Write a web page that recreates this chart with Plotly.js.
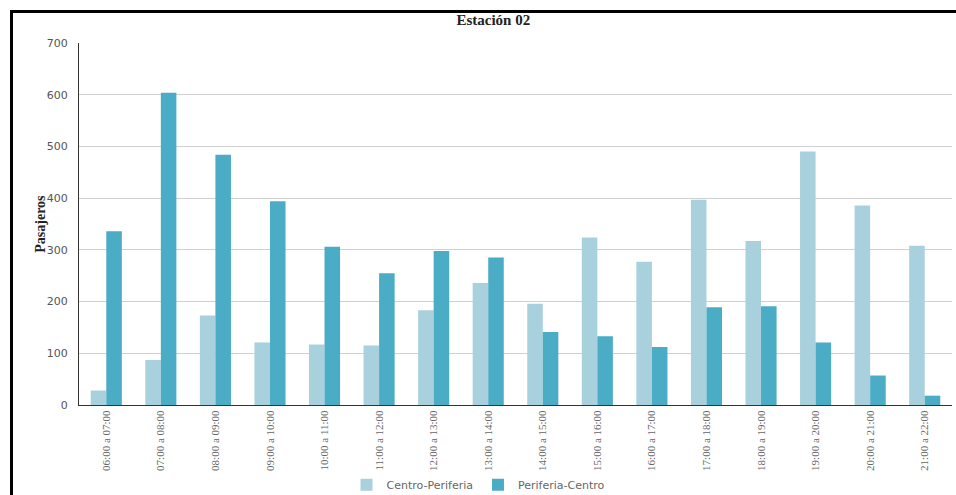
<!DOCTYPE html>
<html><head><meta charset="utf-8">
<script src="https://cdn.plot.ly/plotly-3.0.1.min.js"></script>
<style>
html,body{margin:0;padding:0;background:#fff;}
#wrap{position:relative;width:956px;height:495px;overflow:hidden;}
#chart{position:absolute;left:0;top:0;width:956px;height:495px;}
#frame{position:absolute;left:10px;top:10px;width:960px;height:500px;border-left:3px solid #000;border-top:3px solid #000;pointer-events:none;}
</style></head>
<body><div id="wrap"><div id="chart"></div><div id="frame"></div></div>
<script>
const categories = ["06:00 a 07:00","07:00 a 08:00","08:00 a 09:00","09:00 a 10:00","10:00 a 11:00","11:00 a 12:00","12:00 a 13:00","13:00 a 14:00","14:00 a 15:00","15:00 a 16:00","16:00 a 17:00","17:00 a 18:00","18:00 a 19:00","19:00 a 20:00","20:00 a 21:00","21:00 a 22:00"];
const centroPeriferia = [28, 87, 173, 121, 117, 115, 183, 236, 196, 324, 277, 397, 317, 490, 386, 308];
const periferiaCentro = [336, 604, 484, 394, 306, 255, 298, 285, 141, 133, 112, 189, 191, 121, 57, 18];

const data = [
  {type:'bar', name:'Centro-Periferia', x:categories, y:centroPeriferia, marker:{color:'#a9d1dd'}},
  {type:'bar', name:'Periferia-Centro', x:categories, y:periferiaCentro, marker:{color:'#4bacc6'}}
];
const layout = {
  width:956, height:495,
  margin:{l:79, r:4, t:43, b:90, autoexpand:false},
  paper_bgcolor:'#fff', plot_bgcolor:'#fff',
  barmode:'group', bargap:0.43, bargroupgap:0,
  title:{text:'<b>Estación 02</b>', x:0.516, xanchor:'center', y:0.96, yanchor:'middle', font:{family:'Liberation Serif, Times New Roman, serif', size:15, color:'#222'}},
  xaxis:{type:'category', automargin:false, tickangle:-90, showgrid:false, showline:true, linecolor:'#333', linewidth:1, ticks:'', tickfont:{family:'Liberation Serif, Times New Roman, serif', size:11, color:'#666'}},
  yaxis:{range:[0,700], automargin:false, dtick:100, showgrid:true, gridcolor:'#d0d0d0', gridwidth:1, showline:true, linecolor:'#333', linewidth:1, zeroline:false, ticks:'', ticklen:0, ticklabelstandoff:8, tickfont:{family:'DejaVu Sans, sans-serif', size:11, color:'#555'}},
  annotations:[{text:'<b>Pasajeros</b>', xref:'paper', yref:'paper', x:-0.045, y:0.5, xanchor:'center', yanchor:'middle', textangle:-90, showarrow:false, font:{family:'Liberation Serif, Times New Roman, serif', size:14, color:'#222'}}],
  showlegend:true,
  legend:{orientation:'h', x:0.5, xref:'container', xanchor:'center', y:0.05, yref:'container', yanchor:'top', font:{family:'DejaVu Sans, sans-serif', size:11, color:'#666'}, traceorder:'normal'},
  font:{family:'DejaVu Sans, sans-serif'}
};
Plotly.newPlot('chart', data, layout, {displayModeBar:false, staticPlot:true});
</script></body></html>
